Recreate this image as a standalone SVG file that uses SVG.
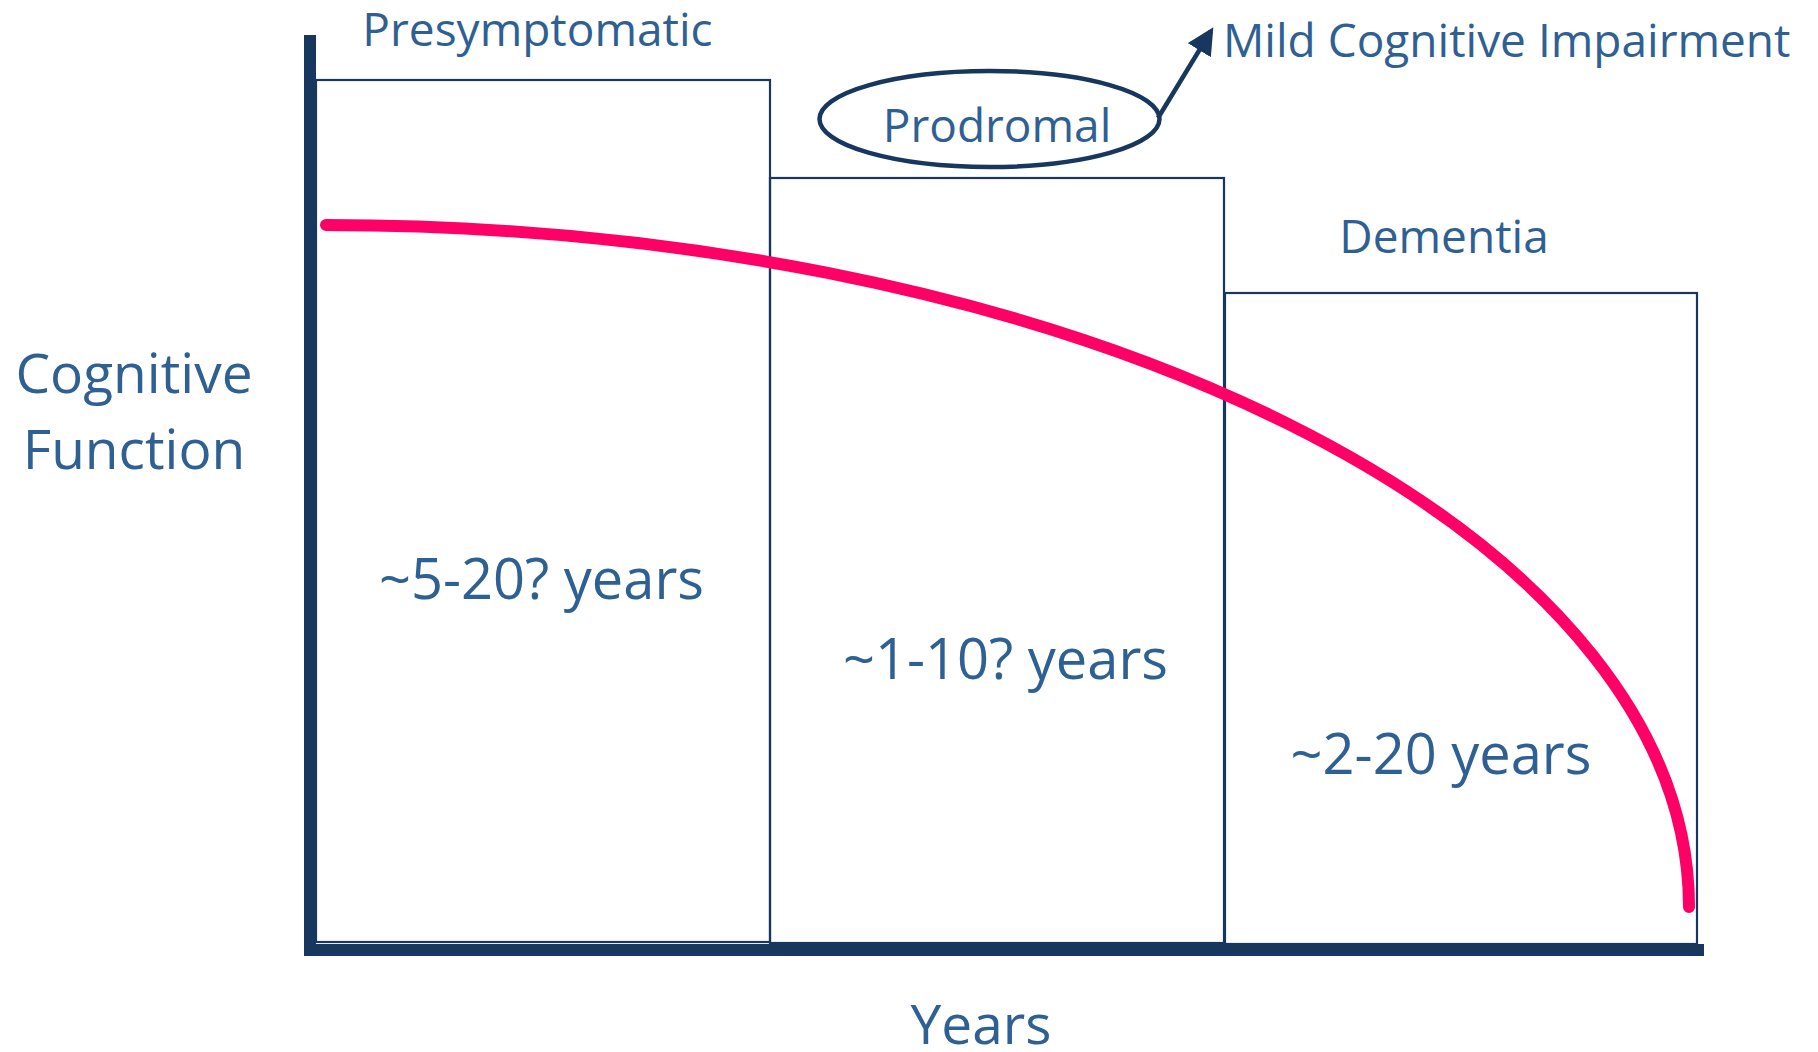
<svg xmlns="http://www.w3.org/2000/svg" width="1818" height="1052" viewBox="0 0 1818 1052">
  <defs>
    <marker id="arrowhead" markerWidth="6" markerHeight="6" refX="5" refY="3" orient="auto" markerUnits="strokeWidth">
      <path d="M0,0 L6,3 L0,6 Z" fill="#17375E"/>
    </marker>
    <style>
      .lbl { font-family: "Open Sans", "Noto Sans", "Liberation Sans", sans-serif; fill: #2F6094; }
      .stage { font-size: 46px; }
      .dur { font-size: 56px; text-anchor: middle; }
      .axislbl { font-size: 55px; text-anchor: middle; }
      .box { fill: none; stroke: #17375E; stroke-width: 2.2; }
      .axis { stroke: #17375E; stroke-width: 12; fill: none; }
    </style>
  </defs>
  <rect width="1818" height="1052" fill="#ffffff"/>

  <!-- stage boxes -->
  <g id="presymptomatic">
    <rect class="box" x="316" y="80" width="454" height="862"/>
    <text class="lbl stage" x="537.5" y="46" text-anchor="middle">Presymptomatic</text>
    <text class="lbl dur" x="541.5" y="599">~5-20? years</text>
  </g>
  <g id="prodromal">
    <rect class="box" x="770" y="178" width="454" height="765"/>
    <text class="lbl dur" x="1005.5" y="679">~1-10? years</text>
  </g>
  <g id="prodromal-label">
    <ellipse cx="989.5" cy="119" rx="170" ry="48" fill="none" stroke="#17375E" stroke-width="4.5"/>
    <text class="lbl stage" x="997" y="142" text-anchor="middle">Prodromal</text>
  </g>
  <g id="mci">
    <text class="lbl stage" x="1223" y="57" font-size="46.5">Mild Cognitive Impairment</text>
  </g>
  <g id="dementia">
    <rect class="box" x="1225" y="293" width="472" height="651"/>
    <text class="lbl stage" x="1444" y="253" text-anchor="middle">Dementia</text>
    <text class="lbl dur" x="1441" y="774">~2-20 years</text>
  </g>

  <!-- axes and titles -->
  <g id="axes">
    <line class="axis" x1="310" y1="35" x2="310" y2="956"/>
    <line class="axis" x1="304" y1="950" x2="1704" y2="950"/>
    <text class="lbl axislbl" x="134" y="393">Cognitive</text>
    <text class="lbl axislbl" x="134" y="469">Function</text>
    <text class="lbl axislbl" x="981" y="1044">Years</text>
  </g>

  <!-- connectors -->
  <g id="connectors">
    <line x1="1158" y1="118" x2="1211" y2="31" stroke="#17375E" stroke-width="4.5" marker-end="url(#arrowhead)"/>
  </g>

  <!-- decline curve -->
  <g id="curve">
    <path d="M326,225 A1363,682 0 0 1 1689,907" fill="none" stroke="#FF0066" stroke-width="12" stroke-linecap="round"/>
  </g>
</svg>
